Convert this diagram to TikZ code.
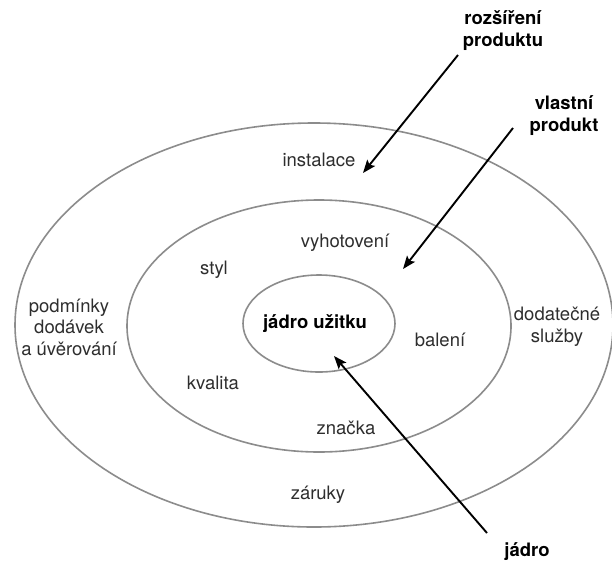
\documentclass[tikz,border=0pt]{standalone}
\usepackage{fontspec}
\setmainfont{TeX Gyre Heros}
\usetikzlibrary{arrows.meta}
\definecolor{ringgray}{HTML}{8C8C8C}
\definecolor{labelgray}{HTML}{2E2E2E}
\tikzset{
  ring/.style={draw=ringgray, line width=1.6pt},
  item/.style={text=labelgray, font=\fontsize{18.5}{21.5}\selectfont, align=center, inner sep=0pt},
  title/.style={text=black, font=\bfseries\fontsize{18.5}{22}\selectfont, align=center, inner sep=0pt},
  pointer/.style={draw=black, line width=1.9pt, -{Stealth[length=13pt,width=10pt,inset=2.5pt]}}
}
\begin{document}
\begin{tikzpicture}[x=1pt,y=-1pt]
  \useasboundingbox (0,0) rectangle (612,560);
  \fill[white] (0,0) rectangle (612,560);

  % the three product levels
  \draw[ring] (314,325) ellipse [x radius=299, y radius=202];
  \draw[ring] (319,326) ellipse [x radius=192, y radius=126];
  \draw[ring] (319,323.5) ellipse [x radius=76, y radius=48.5];

  % items of the augmented product
  \node[item] (instalace) at (319,160) {instalace};
  \node[item] (podminky) at (69,327) {podmínky\\dodávek\\a úvěrování};
  \node[item] (dodatecne) at (557,327) {dodatečné\\služby};
  \node[item] (zaruky) at (318,495) {záruky};

  % items of the actual product
  \node[item] (vyhotoveni) at (345,243) {vyhotovení};
  \node[item] (styl) at (214,270) {styl};
  \node[item] (baleni) at (440,340) {balení};
  \node[item] (kvalita) at (213,383) {kvalita};
  \node[item] (znacka) at (346,428) {značka};

  % core
  \node[title] (jadrouzitku) at (315,324) {jádro užitku};

  % level captions
  \node[title] (rozsireni) at (503,31) {rozšíření\\produktu};
  \node[title] (vlastni) at (564,116) {vlastní\\produkt};
  \node[title] (jadro) at (527,552) {jádro};

  % pointers from the captions into their rings
  \coordinate (p1s) at (458,55);
  \coordinate (p1e) at (363,173);
  \coordinate (p2s) at (513,128);
  \coordinate (p2e) at (403,269);
  \coordinate (p3s) at (487,533);
  \coordinate (p3e) at (334,356);
  \draw[pointer] (p1s) -- (p1e);
  \draw[pointer] (p2s) -- (p2e);
  \draw[pointer] (p3s) -- (p3e);
\end{tikzpicture}
\end{document}
